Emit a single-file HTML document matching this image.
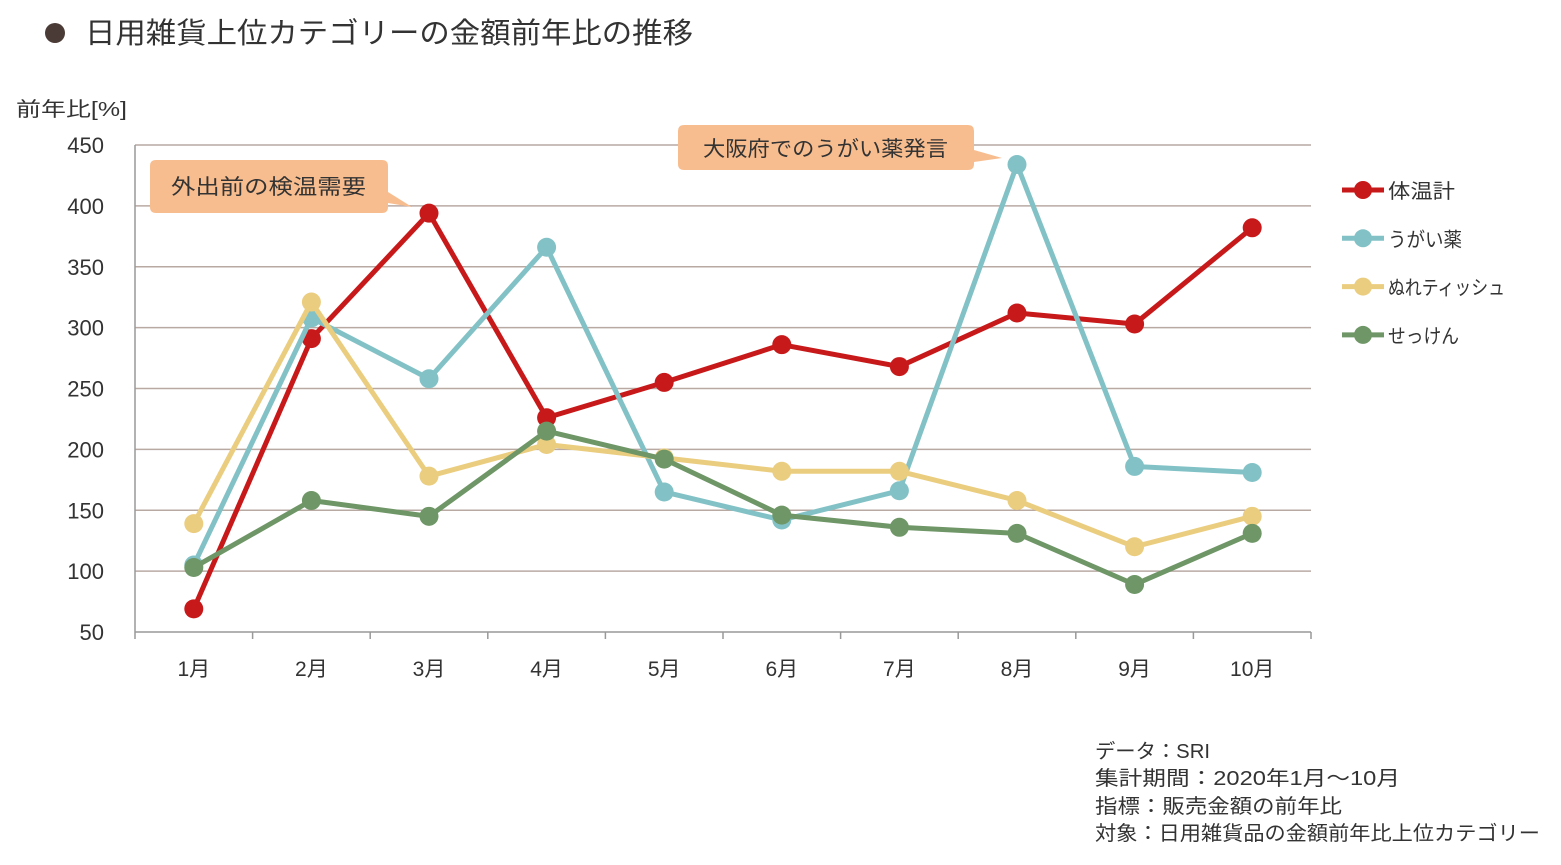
<!DOCTYPE html>
<html><head><meta charset="utf-8">
<style>
body{margin:0;background:#fff;width:1561px;height:860px;overflow:hidden;font-family:"Liberation Sans","Noto Sans CJK JP",sans-serif;color:#333}
svg text{font-family:"Liberation Sans","Noto Sans CJK JP",sans-serif;fill:#333}
</style></head><body>
<svg width="1561" height="860">
<circle cx="55" cy="33" r="10" fill="#4a3b36"/>
<text x="85" y="43" font-size="29" textLength="608" lengthAdjust="spacingAndGlyphs">日用雑貨上位カテゴリーの金額前年比の推移</text>
<text x="16" y="116" font-size="20" textLength="111" lengthAdjust="spacingAndGlyphs">前年比[%]</text>
<g id="grid"></g><g id="axes"></g><g id="series"></g>
<g>
<path d="M156,160 H382 Q388,160 388,166 V192 L412,207 L388,203 V207 Q388,213 382,213 H156 Q150,213 150,207 V166 Q150,160 156,160Z" fill="#f8bd8f"/>
<text x="171" y="194" font-size="21" textLength="195" lengthAdjust="spacingAndGlyphs">外出前の検温需要</text></g>
<g>
<path d="M684,125 H968 Q974,125 974,131 V150 L1002,158 L974,162 V164 Q974,170 968,170 H684 Q678,170 678,164 V131 Q678,125 684,125Z" fill="#f8bd8f"/>
<text x="703" y="156" font-size="21" textLength="245" lengthAdjust="spacingAndGlyphs">大阪府でのうがい薬発言</text></g>
<g id="legend"></g>
<g font-size="20">
<text x="1095" y="758" textLength="115" lengthAdjust="spacingAndGlyphs">データ：SRI</text>
<text x="1095" y="785" textLength="305" lengthAdjust="spacingAndGlyphs">集計期間：2020年1月～10月</text>
<text x="1095" y="813" textLength="247" lengthAdjust="spacingAndGlyphs">指標：販売金額の前年比</text>
<text x="1095" y="840" textLength="445" lengthAdjust="spacingAndGlyphs">対象：日用雑貨品の金額前年比上位カテゴリー</text></g>
</svg>
<script>
const categories=["1月","2月","3月","4月","5月","6月","7月","8月","9月","10月"];
const yTicks=[50,100,150,200,250,300,350,400,450];
const seriesNames=["体温計","うがい薬","ぬれティッシュ","せっけん"];
const seriesColors=["#c8191a","#82c2c6","#ebcd7f","#6e9666"];
const thermometer=[69,291,394,226,255,286,268,312,303,382];
const gargle=[105,308,258,366,165,142,166,434,186,181];
const wetTissue=[139,321,178,204,193,182,182,158,120,145];
const soap=[103,158,145,215,192,146,136,131,89,131];
const values=[thermometer,gargle,wetTissue,soap];
const legendLens=[67,74,117,71];
const NS="http://www.w3.org/2000/svg";
const L=135,R=1311,T=145,B=632,yMin=50,yMax=450;
const step=(R-L)/categories.length;
const xS=i=>L+step*(i+0.5);
const yS=v=>B-(v-yMin)/(yMax-yMin)*(B-T);
function mk(t,a,p){const e=document.createElementNS(NS,t);for(const k in a)e.setAttribute(k,a[k]);p.appendChild(e);return e;}
const grid=document.getElementById('grid'),axes=document.getElementById('axes'),ser=document.getElementById('series'),leg=document.getElementById('legend');
yTicks.forEach(v=>{
 if(v>yMin){const g=mk('line',{x1:L,x2:R,y1:yS(v),y2:yS(v),stroke:'#b9a9a3','stroke-width':1.5},grid);
 
 }
 const t=mk('text',{x:104,y:yS(v)+8,'font-size':22,'text-anchor':'end'},axes);t.textContent=v;
 
 
});
const ya=mk('line',{x1:L,x2:L,y1:T,y2:B,stroke:'#999','stroke-width':1.5},axes);


const xa=mk('line',{x1:L,x2:R,y1:B,y2:B,stroke:'#999','stroke-width':1.5},axes);


for(let i=0;i<=categories.length;i++){mk('line',{x1:L+step*i,x2:L+step*i,y1:B,y2:B+7,stroke:'#999','stroke-width':1.5},axes);}
categories.forEach((c,i)=>{const t=mk('text',{x:xS(i),y:676,'font-size':21,'text-anchor':'middle'},axes);t.textContent=c;
 
 });
values.forEach((vals,s)=>{
 const g=mk('g',{},ser);
 
 
 mk('polyline',{points:vals.map((v,i)=>xS(i)+','+yS(v)).join(' '),fill:'none',stroke:seriesColors[s],'stroke-width':5,'stroke-linejoin':'round'},g);
 vals.forEach((v,i)=>{const c=mk('circle',{cx:xS(i),cy:yS(v),r:9.5,fill:seriesColors[s]},g);
  
  });
 const ly=190+s*48.3;
 const lg=mk('g',{},leg);
 
 
 mk('line',{x1:1342,x2:1384,y1:ly,y2:ly,stroke:seriesColors[s],'stroke-width':5},lg);
 mk('circle',{cx:1363,cy:ly,r:9,fill:seriesColors[s]},lg);
 const t=mk('text',{x:1388,y:ly+8,'font-size':20,textLength:legendLens[s],lengthAdjust:'spacingAndGlyphs'},lg);t.textContent=seriesNames[s];
});
</script>
</body></html>
